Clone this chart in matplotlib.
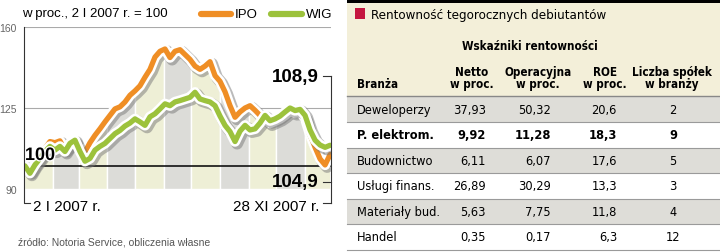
import matplotlib
matplotlib.use('Agg')
import matplotlib.pyplot as plt
import matplotlib.patheffects as pe
from matplotlib import font_manager as fm
from matplotlib.patches import Rectangle
import numpy as np
import pandas as pd

plt.rcParams['font.family'] = ['Liberation Sans', 'DejaVu Sans']

# indeksy, 2 I 2007 = 100
wig = [100.0, 96.8, 100.4, 103.2, 106.2, 108.4, 106.8, 108.4, 106.2, 109.7,
       111.1, 106.2, 102.0, 103.2, 106.8, 108.4, 109.7, 111.8, 113.9, 115.3,
       117.2, 118.5, 120.3, 119.0, 117.5, 121.2, 122.5, 124.6, 126.8, 126.0,
       127.6, 128.2, 128.9, 129.6, 131.8, 128.9, 128.2, 127.6, 126.0, 121.5,
       117.5, 114.8, 110.5, 115.0, 117.5, 115.5, 116.0, 118.5, 121.8, 119.5,
       120.3, 121.5, 123.3, 125.0, 123.9, 124.4, 121.8, 115.5, 111.1, 109.0,
       108.0, 108.9]
ipo = [100.0, 97.5, 101.0, 104.0, 107.5, 110.5, 110.0, 110.8, 107.0, 109.5,
       110.5, 106.5, 106.0, 110.0, 113.2, 116.0, 119.0, 121.8, 124.6, 125.5,
       127.6, 130.5, 132.4, 134.6, 138.3, 141.7, 147.0, 149.5, 150.5, 146.8,
       149.5, 150.2, 148.1, 146.0, 143.1, 141.7, 143.1, 145.0, 139.0, 136.5,
       132.0, 126.0, 121.0, 123.3, 125.0, 126.0, 124.0, 121.8, 120.5, 118.5,
       119.5, 120.5, 122.0, 124.0, 123.0, 123.5, 120.5, 113.5, 108.0, 103.0,
       100.4, 104.9]
dates = pd.date_range('2007-01-02', '2007-11-28', periods=len(wig))

# tabela
branze = ['Deweloperzy', 'P. elektrom.', 'Budownictwo', 'Usługi finans.',
          'Materiały bud.', 'Handel']
netto = [37.93, 9.92, 6.11, 26.89, 5.63, 0.35]
operacyjna = [50.32, 11.28, 6.07, 30.29, 7.75, 0.17]
roe = [20.6, 18.3, 17.6, 13.3, 11.8, 6.3]
liczba = [2, 9, 5, 3, 4, 12]

ORANGE = '#ef8e25'
GREEN = '#9cc23c'


# waski krój do tabeli, jesli jest; inaczej Liberation Sans mniejszy
def find_cond(bold):
    for f in fm.fontManager.ttflist:
        if 'Serif' in f.name or 'Mono' in f.name or f.style != 'normal':
            continue
        st = str(f.stretch)
        cond = (st in ('condensed', 'semi-condensed', '500', '600')
                or 'Narrow' in f.name or 'Condensed' in f.name)
        if not cond:
            continue
        w = f.weight if isinstance(f.weight, int) else fm.weight_dict.get(f.weight, 400)
        if (bold and w == 700) or (not bold and w == 400):
            return f.fname
    return None


reg_path, bold_path = find_cond(False), find_cond(True)
if reg_path and bold_path:
    def tfont(bold, size):
        return fm.FontProperties(fname=bold_path if bold else reg_path, size=size)
else:
    def tfont(bold, size):
        return fm.FontProperties(family='Liberation Sans',
                                 weight='bold' if bold else 'normal', size=size)

W, H = 720, 253
fig = plt.figure(figsize=(W / 100, H / 100), dpi=100)

ax = fig.add_axes([24 / W, 1 - 190 / H, 307 / W, 162 / H])
ax.set_ylim(90, 160)
ax.set_xlim(pd.Timestamp('2007-01-01'), pd.Timestamp('2007-11-29'))
for s in ax.spines.values():
    s.set_visible(False)
ax.set_xticks([])
ax.set_yticks([90, 125, 160])
ax.tick_params(axis='y', length=0, pad=5, labelsize=7.5, labelcolor='#666666')

# miesieczne pasy pod wykresem
top = np.maximum(wig, ipo)
area = ax.fill_between(dates, 90, top, facecolor='none', edgecolor='none')
clip = area.get_paths()[0]
months = pd.date_range('2007-01-01', '2007-12-01', freq='MS')
for i in range(len(months) - 1):
    r = ax.axvspan(months[i], months[i + 1],
                   facecolor='#eeefd6' if i % 2 == 0 else '#dcdcd8',
                   edgecolor='white', linewidth=1, zorder=1)
    r.set_clip_path(clip, ax.transData)

ax.axhline(160, color='#aaaaaa', lw=0.8, zorder=0)
ax.axhline(125, color='#aaaaaa', lw=0.8, zorder=0)
ax.axhline(100, color='black', lw=1.1, zorder=3)

for vals, col, z in [(ipo, ORANGE, 4), (wig, GREEN, 5)]:
    ax.plot(dates, vals, color=col, lw=3.8, zorder=z, solid_capstyle='round',
            solid_joinstyle='round',
            path_effects=[pe.SimpleLineShadow(offset=(1.5, -1.5), shadow_color='#777777',
                                              alpha=0.5, linewidth=8.5),
                          pe.Stroke(linewidth=7.5, foreground='white'), pe.Normal()])

ax.text(dates[0], 100.8, '100', fontsize=13, fontweight='bold', va='bottom', ha='left',
        zorder=6, path_effects=[pe.withStroke(linewidth=2, foreground='white')])

# nakladka w pikselach
ov = fig.add_axes([0, 0, 1, 1], zorder=10)
ov.set_xlim(0, W)
ov.set_ylim(H, 0)
ov.axis('off')

ov.text(22, 14, 'w proc., 2 I 2007 r. = 100', fontsize=9.5, va='center')
ov.plot([201, 231], [15, 15], color=ORANGE, lw=4.5, solid_capstyle='round')
ov.text(235, 15, 'IPO', fontsize=9.5, va='center')
ov.plot([271, 302], [15, 15], color=GREEN, lw=4.5, solid_capstyle='round')
ov.text(306, 15, 'WIG', fontsize=9.5, va='center')

lc = '#333333'
ov.plot([24, 24, 30], [28, 204, 204], color=lc, lw=0.8)
ov.plot([331, 331], [77, 204], color=lc, lw=0.8)
for yy in [77, 183, 204]:
    ov.plot([323, 331], [yy, yy], color=lc, lw=0.8)
ov.text(319, 77, '108,9', fontsize=13.5, fontweight='bold', ha='right', va='center')
ov.text(319, 183, '104,9', fontsize=13.5, fontweight='bold', ha='right', va='center')
ov.text(33, 207, '2 I 2007 r.', fontsize=11, ha='left', va='center')
ov.text(319, 207, '28 XI 2007 r.', fontsize=11, ha='right', va='center')
ov.text(18, 243, 'źródło: Notoria Service, obliczenia własne', fontsize=7.5,
        color='#555555', va='center')

# tabela
X0 = 347
HB = 8.4   # naglowki pogrubione
TB = 9.2   # wiersze
ov.add_patch(Rectangle((X0, 0), W - X0, 4, color='black', lw=0))
ov.add_patch(Rectangle((X0, 4), W - X0, 93, color='#f3efd9', lw=0))
ov.add_patch(Rectangle((355, 9), 10, 11, color='#c4163f', lw=0))
ov.text(371, 15, 'Rentowność tegorocznych debiutantów', fontproperties=tfont(False, 9.5),
        va='center')
ov.text(530, 46, 'Wskaźniki rentowności', fontproperties=tfont(True, HB),
        ha='center', va='center')
ov.text(357, 84, 'Branża', fontproperties=tfont(True, HB), va='center')
heads = [(472, 'Netto'), (538, 'Operacyjna'), (605, 'ROE'), (672, 'Liczba spółek')]
subs = ['w proc.', 'w proc.', 'w proc.', 'w branży']
for (hx, h), sub in zip(heads, subs):
    ov.text(hx, 72, h, fontproperties=tfont(True, HB), ha='center', va='center')
    ov.text(hx, 84, sub, fontproperties=tfont(True, HB), ha='center', va='center')
ov.plot([X0, W], [97, 97], color='#888888', lw=1)

rh = 25.5
for i in range(len(branze)):
    y0 = 97.5 + i * rh
    if i % 2 == 0:
        ov.add_patch(Rectangle((X0, y0), W - X0, rh, color='#deddd8', lw=0))
    ov.plot([X0, W], [y0 + rh, y0 + rh], color='#9a9a9a', lw=0.8)
    yc = y0 + rh / 2
    fp = tfont(i == 1, TB)
    ov.text(357, yc, branze[i], ha='left', va='center', fontproperties=fp)
    ov.text(486, yc, f'{netto[i]:.2f}'.replace('.', ','), ha='right', va='center',
            fontproperties=fp)
    ov.text(551, yc, f'{operacyjna[i]:.2f}'.replace('.', ','), ha='right', va='center',
            fontproperties=fp)
    ov.text(617, yc, f'{roe[i]:.1f}'.replace('.', ','), ha='right', va='center',
            fontproperties=fp)
    ov.text(673, yc, str(liczba[i]), ha='center', va='center', fontproperties=fp)

fig.savefig('out.png', dpi=100)
